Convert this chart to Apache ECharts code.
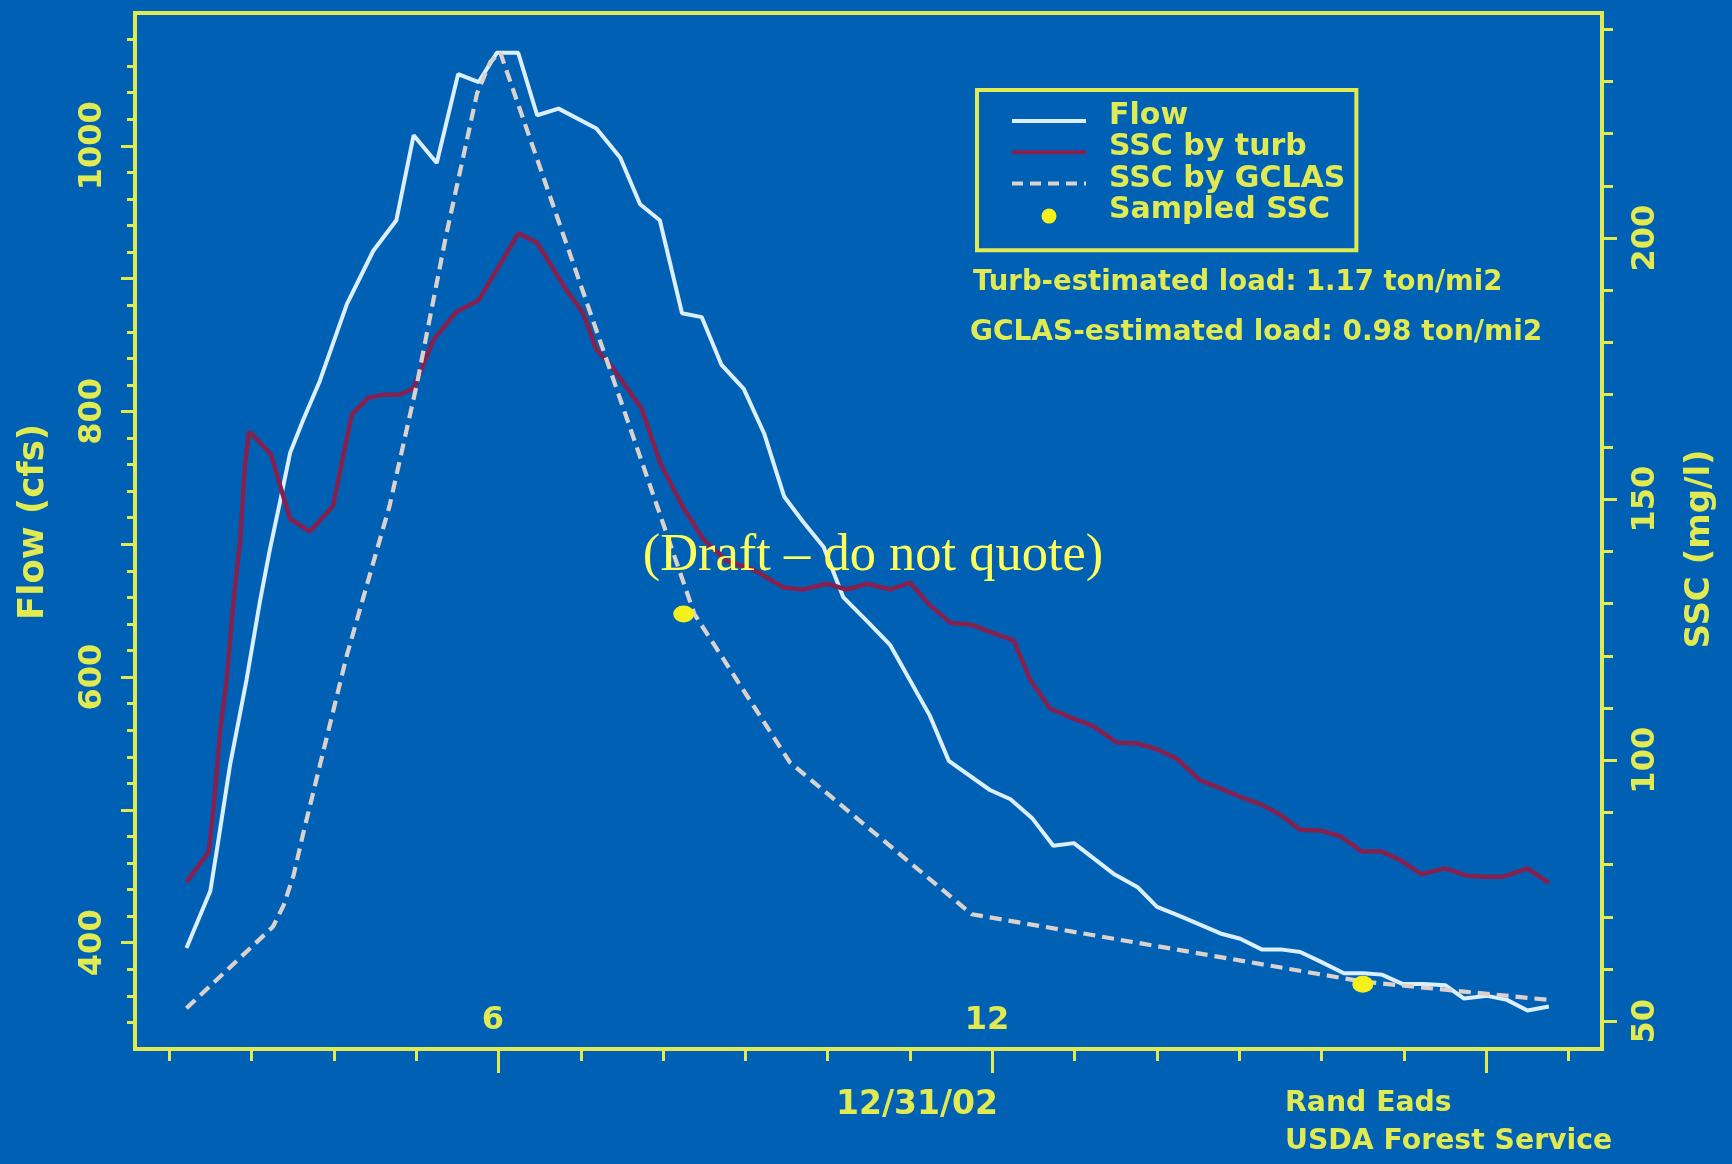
<!DOCTYPE html>
<html>
<head>
<meta charset="utf-8">
<script src="https://cdn.jsdelivr.net/npm/echarts/dist/echarts.min.js"></script>
<style>
html,body{margin:0;padding:0;background:#0061b4;}
#chart{width:1732px;height:1164px;}
</style>
</head>
<body>
<div id="chart"></div>
<script>
// ---- Data (hours on 12/31/02) ----
const flowHours  = [2.21,2.50,2.58,2.74,2.94,3.10,3.22,3.35,3.47,3.63,3.83,4.16,4.48,4.76,4.97,5.25,5.51,5.76,5.98,6.24,6.47,6.73,7.19,7.48,7.72,7.96,8.23,8.47,8.71,8.98,9.23,9.47,9.70,9.95,10.19,10.48,10.76,11.24,11.47,11.97,12.22,12.48,12.74,12.99,13.47,13.76,14.00,14.28,14.77,15.01,15.27,15.50,15.74,15.98,16.27,16.51,16.73,16.98,17.24,17.50,17.73,18.01,18.25,18.50,18.76];
const flowCfs    = [396,439,470,534,598,656,695,733,769,794,823,881,921,944,1008,987,1054,1048,1070,1070,1023,1028,1013,991,956,944,874,871,835,817,783,736,717,698,660,642,624,571,537,515,508,494,473,475,452,442,427,420,407,403,395,395,393,386,377,377,376,369,369,368,358,360,357,349,352];

const turbHours  = [2.21,2.48,2.54,2.62,2.70,2.78,2.86,2.92,2.97,3.02,3.24,3.33,3.47,3.71,3.99,4.22,4.42,4.60,4.80,4.97,5.21,5.49,5.76,6.02,6.24,6.47,6.81,7.03,7.19,7.36,7.48,7.74,7.96,8.24,8.49,8.77,9.10,9.46,9.70,9.99,10.23,10.48,10.76,11.00,11.24,11.49,11.73,11.97,12.26,12.46,12.70,12.95,13.23,13.51,13.76,14.00,14.24,14.52,14.77,15.01,15.27,15.50,15.74,16.00,16.23,16.49,16.73,16.95,17.21,17.50,17.76,18.01,18.21,18.50,18.76];
const turbSsc    = [76.7,82.4,91.0,105.7,115.6,130.3,141.7,156.5,162.9,162.2,158.5,153.5,146.2,143.8,148.7,166.3,169.4,170.0,170.0,171.3,180.5,185.9,188.1,195.0,200.9,199.1,190.4,185.6,178.6,175.7,173.1,167.3,157.1,148.5,142.3,138.2,136.5,133.1,132.7,133.8,132.7,133.8,132.7,134.0,129.7,126.3,126.0,124.6,122.9,115.4,109.9,108.2,106.5,103.4,103.2,102.1,100.3,96.2,94.6,93.0,91.5,89.5,86.7,86.5,85.4,82.5,82.5,80.9,78.2,79.3,77.9,77.7,77.7,79.3,76.5];

const gclasHours = [2.21,3.26,3.39,3.51,3.63,4.16,4.68,5.01,5.36,5.74,5.90,6.02,7.23,8.38,9.54,11.75,16.50,18.76];
const gclasSsc   = [52.5,68.1,72.2,77.9,86.1,120.2,148.9,172.1,200.2,227.7,233.7,235.6,180.5,128.0,99.6,70.5,57.6,54.1];

const sampleHours = [8.25,16.50];
const sampleSsc   = [128.0,57.1];

// axis ticks / labels
const hourTicks      = [2,3,4,5,6,7,8,9,10,11,12,13,14,15,16,17,18,19];
const hourMajorTicks = [6,12,18];
const hourLabels     = [6,12];
const flowTicks      = [340,360,380,400,420,440,460,480,500,520,540,560,580,600,620,640,660,680,700,720,740,760,780,800,820,840,860,880,900,920,940,960,980,1000,1020,1040,1060,1080];
const flowMajorTicks = [400,500,600,700,800,900,1000];
const flowLabels     = [400,600,800,1000];
const sscTicks       = [50,60,70,80,90,100,110,120,130,140,150,160,170,180,190,200,210,220,230,240];
const sscMajorTicks  = [50,100,150,200];
const sscLabels      = [50,100,150,200];

const seriesNames = ['Flow', 'SSC by turb', 'SSC by GCLAS', 'Sampled SSC'];

// ---- Styling ----
const YEL = '#e2ea52';
const FONT = '"DejaVu Sans"';
const zip = (a, b) => a.map((v, i) => [v, b[i]]);

const X_MIN = 1.585, X_MAX = 19.405;
const F_MIN = 320, F_MAX = 1100;
const S_MIN = 44.7, S_MAX = 243.1;

const C_FLOW = '#dcefff', C_TURB = '#86204e', C_GCLAS = '#dcd2cd', C_DOT = '#f4f01e';

const tickStyle = {color: YEL, width: 3};
const labelFont = {color: YEL, fontFamily: FONT, fontWeight: 'bold', fontSize: 32};

const chart = echarts.init(document.getElementById('chart'), null, {renderer: 'canvas'});

chart.setOption({
  backgroundColor: '#0061b4',
  animation: false,
  grid: {
    left: 135, right: 130, top: 13, bottom: 115,
    show: true, borderColor: YEL, borderWidth: 4, backgroundColor: 'transparent'
  },
  xAxis: [
    {
      type: 'value', min: X_MIN, max: X_MAX, position: 'bottom',
      axisLine: {show: false}, splitLine: {show: false},
      axisTick: {show: true, customValues: hourTicks, length: 12, lineStyle: tickStyle},
      axisLabel: Object.assign({customValues: hourLabels, inside: true, margin: 12,
        padding: [0, 11, 0, 0], formatter: v => String(v)}, labelFont)
    },
    {
      type: 'value', min: X_MIN, max: X_MAX, position: 'bottom',
      axisLine: {show: false}, splitLine: {show: false},
      axisTick: {show: true, customValues: hourMajorTicks, length: 24, lineStyle: tickStyle},
      axisLabel: {show: false}
    }
  ],
  yAxis: [
    {
      type: 'value', min: F_MIN, max: F_MAX, position: 'left',
      axisLine: {show: false}, splitLine: {show: false},
      axisTick: {show: true, customValues: flowTicks, length: 8, lineStyle: tickStyle},
      axisLabel: Object.assign({customValues: flowLabels, rotate: 90, margin: 26,
        formatter: v => String(v)}, labelFont)
    },
    {
      type: 'value', min: F_MIN, max: F_MAX, position: 'left',
      axisLine: {show: false}, splitLine: {show: false},
      axisTick: {show: true, customValues: flowMajorTicks, length: 14, lineStyle: tickStyle},
      axisLabel: {show: false}
    },
    {
      type: 'value', min: S_MIN, max: S_MAX, position: 'right',
      axisLine: {show: false}, splitLine: {show: false},
      axisTick: {show: true, customValues: sscTicks, length: 11, lineStyle: tickStyle},
      axisLabel: Object.assign({customValues: sscLabels, rotate: 90, margin: 28,
        formatter: v => String(v)}, labelFont)
    },
    {
      type: 'value', min: S_MIN, max: S_MAX, position: 'right',
      axisLine: {show: false}, splitLine: {show: false},
      axisTick: {show: true, customValues: sscMajorTicks, length: 15, lineStyle: tickStyle},
      axisLabel: {show: false}
    }
  ],
  legend: [
    // icons only
    {
      orient: 'vertical',
      left: 1010, top: 115,
      padding: 0,
      itemGap: 19.2,
      itemWidth: 74, itemHeight: 15,
      formatter: () => '',
      textStyle: {fontSize: 10, lineHeight: 10},
      data: [
        {name: seriesNames[0], itemStyle: {opacity: 0}, lineStyle: {width: 4, color: C_FLOW}},
        {name: seriesNames[1], itemStyle: {opacity: 0}, lineStyle: {width: 4, color: C_TURB}},
        {name: seriesNames[2], itemStyle: {opacity: 0}, lineStyle: {width: 4, color: C_GCLAS, type: [11, 7]}},
        {name: seriesNames[3], icon: 'circle', itemStyle: {color: C_DOT, opacity: 1}}
      ]
    },
    // text + frame
    {
      orient: 'vertical',
      left: 977, top: 90,
      padding: [10.5, 11, 24.5, 32],
      itemGap: 0,
      itemWidth: 74, itemHeight: 15,
      borderColor: YEL, borderWidth: 4,
      textStyle: {color: YEL, fontFamily: FONT, fontWeight: 'bold', fontSize: 30,
        lineHeight: 31.3, padding: [0, 0, 0, 20]},
      data: [
        {name: seriesNames[0], itemStyle: {opacity: 0}, lineStyle: {opacity: 0}},
        {name: seriesNames[1], itemStyle: {opacity: 0}, lineStyle: {opacity: 0}},
        {name: seriesNames[2], itemStyle: {opacity: 0}, lineStyle: {opacity: 0}},
        {name: seriesNames[3], icon: 'circle', itemStyle: {opacity: 0}}
      ]
    }
  ],
  series: [
    {
      name: seriesNames[0], type: 'line', xAxisIndex: 0, yAxisIndex: 0,
      data: zip(flowHours, flowCfs), symbol: 'none',
      lineStyle: {color: C_FLOW, width: 4}, itemStyle: {color: C_FLOW}
    },
    {
      name: seriesNames[1], type: 'line', xAxisIndex: 0, yAxisIndex: 2,
      data: zip(turbHours, turbSsc), symbol: 'none',
      lineStyle: {color: C_TURB, width: 4.5}, itemStyle: {color: C_TURB}
    },
    {
      name: seriesNames[2], type: 'line', xAxisIndex: 0, yAxisIndex: 2,
      data: zip(gclasHours, gclasSsc), symbol: 'none',
      lineStyle: {color: C_GCLAS, width: 4.2, type: [12, 7]}, itemStyle: {color: C_GCLAS}
    },
    {
      name: seriesNames[3], type: 'scatter', xAxisIndex: 0, yAxisIndex: 2,
      data: zip(sampleHours, sampleSsc), symbol: 'circle', symbolSize: [21, 17],
      itemStyle: {color: C_DOT, opacity: 1}, z: 5
    }
  ],
  graphic: [
    {type: 'text', x: 34, y: 522, rotation: Math.PI / 2, z: 10,
      style: {text: 'Flow (cfs)', font: 'bold 35.5px ' + FONT, fill: YEL, align: 'center', verticalAlign: 'middle'}},
    {type: 'text', x: 1700, y: 549, rotation: Math.PI / 2, z: 10,
      style: {text: 'SSC (mg/l)', font: 'bold 34px ' + FONT, fill: YEL, align: 'center', verticalAlign: 'middle'}},
    {type: 'text', x: 973, y: 283, z: 10,
      style: {text: 'Turb-estimated load: 1.17 ton/mi2', font: 'bold 27.5px ' + FONT, fill: YEL, align: 'left', verticalAlign: 'middle'}},
    {type: 'text', x: 970, y: 333, z: 10,
      style: {text: 'GCLAS-estimated load: 0.98 ton/mi2', font: 'bold 28px ' + FONT, fill: YEL, align: 'left', verticalAlign: 'middle'}},
    {type: 'text', x: 917, y: 1105, z: 10,
      style: {text: '12/31/02', font: 'bold 33px ' + FONT, fill: YEL, align: 'center', verticalAlign: 'middle'}},
    {type: 'text', x: 1285, y: 1104, z: 10,
      style: {text: 'Rand Eads', font: 'bold 28.3px ' + FONT, fill: YEL, align: 'left', verticalAlign: 'middle'}},
    {type: 'text', x: 1285, y: 1142, z: 10,
      style: {text: 'USDA Forest Service', font: 'bold 28.3px ' + FONT, fill: YEL, align: 'left', verticalAlign: 'middle'}},
    {type: 'text', x: 873, y: 556, z: 20,
      style: {text: '(Draft \u2013 do not quote)', font: '52.5px "Liberation Serif"', fill: '#ffff5c', align: 'center', verticalAlign: 'middle'}}
  ]
});
</script>
</body>
</html>
